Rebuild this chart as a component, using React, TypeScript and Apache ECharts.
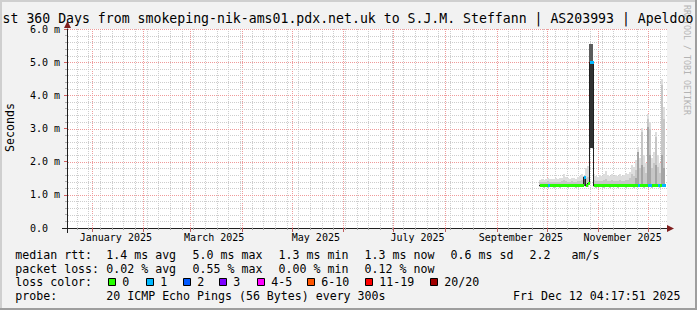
import React, { useEffect, useRef } from 'react';
import * as echarts from 'echarts';

const MONO = '"DejaVu Sans Mono", monospace';
const DAY = 86400000;
const END_TIME = Date.UTC(2025, 11, 12, 4, 17, 51);
const START_TIME = END_TIME - 360 * DAY;

// the title is wider than the image; only this part of it is visible
const titleText = 'st 360 Days from smokeping-nik-ams01.pdx.net.uk to S.J.M. Steffann | AS203993 | Apeldoo';
const yAxisTitle = 'Seconds';
const watermark = 'RRDTOOL / TOBI OETIKER';

// x axis labels (centred mid-month) and month grid lines
const xLabelTimes = [
  Date.UTC(2025, 0, 15, 12), Date.UTC(2025, 2, 15, 12), Date.UTC(2025, 4, 15, 12),
  Date.UTC(2025, 6, 15, 12), Date.UTC(2025, 8, 15, 12), Date.UTC(2025, 10, 15, 12),
];
const xLabelTexts = ['January 2025', 'March 2025', 'May 2025', 'July 2025', 'September 2025', 'November 2025'];
const monthStarts = [
  Date.UTC(2025, 0, 1), Date.UTC(2025, 1, 1), Date.UTC(2025, 2, 1), Date.UTC(2025, 3, 1),
  Date.UTC(2025, 4, 1), Date.UTC(2025, 5, 1), Date.UTC(2025, 6, 1), Date.UTC(2025, 7, 1),
  Date.UTC(2025, 8, 1), Date.UTC(2025, 9, 1), Date.UTC(2025, 10, 1), Date.UTC(2025, 11, 1),
];
const firstMonday = Date.UTC(2024, 11, 23);
const yMajorValues = [1, 2, 3, 4, 5, 6];
const yMinorPerMajor = 5;

// consolidated RRD rows (1.2 days each), values in ms
const binStart = Date.UTC(2025, 8, 26, 9, 0, 0);
const binDays = 1.2;

const medianRtt = [
  1.30, 1.30, 1.31, 1.30, 1.29, 1.30, 1.30, 1.31, 1.30, 1.30,
  1.30, 1.31, 1.30, 1.30, 1.30, 1.29, 1.30, 1.30, 1.31, 1.30,
  1.30, 1.30, 1.55, 1.31, 1.36, 5.00, 5.00, 1.30, 1.29, 1.30,
  1.30, 1.30, 1.31, 1.30, 1.30, 1.29, 1.30, 1.30, 1.30, 1.31,
  1.30, 1.30, 1.30, 1.29, 1.30, 1.30, 1.31, 1.30, 1.30, 1.31,
  1.30, 1.31, 1.30, 1.30, 1.31, 1.30, 1.30, 1.30, 1.31, 1.30,
  1.30, 1.31, 1.30,
];
const lossCount = [
  0, 0, 0, 0, 1, 0, 0, 0, 0, 0,
  0, 0, 0, 0, 0, 0, 0, 0, 0, 0,
  0, 0, 1, 0, 0, 1, 1, 0, 0, 0,
  0, 0, 0, 0, 0, 0, 0, 0, 0, 0,
  0, 0, 0, 0, 0, 0, 0, 0, 0, 1,
  0, 0, 0, 0, 1, 1, 0, 0, 0, 1,
  0, 1, 1,
];
const smokeMin = [
  1.23, 1.23, 1.22, 1.23, 1.22, 1.23, 1.23, 1.22, 1.23, 1.23,
  1.22, 1.23, 1.23, 1.23, 1.22, 1.23, 1.23, 1.23, 1.22, 1.23,
  1.23, 1.23, 1.27, 1.23, 1.24, 2.40, 2.40, 1.23, 1.22, 1.23,
  1.23, 1.23, 1.22, 1.23, 1.23, 1.22, 1.23, 1.23, 1.23, 1.22,
  1.23, 1.23, 1.23, 1.22, 1.23, 1.23, 1.23, 1.22, 1.23, 1.23,
  1.23, 1.23, 1.22, 1.23, 1.23, 1.23, 1.22, 1.23, 1.23, 1.23,
  1.22, 1.23, 1.23,
];
const smokeMax = [
  1.45, 1.47, 1.46, 1.48, 1.50, 1.47, 1.49, 1.48, 1.50, 1.49,
  1.51, 1.52, 1.64, 1.55, 1.50, 1.49, 1.52, 1.50, 1.49, 1.55,
  1.56, 1.62, 1.58, 1.80, 1.86, 5.54, 5.54, 1.62, 1.58, 1.55,
  1.60, 1.57, 1.62, 1.72, 1.60, 1.58, 1.64, 1.56, 1.60, 1.58,
  1.62, 1.57, 1.60, 1.66, 1.62, 1.70, 1.90, 1.85, 2.05, 2.45,
  2.10, 3.02, 2.20, 1.95, 3.44, 3.20, 2.10, 2.30, 2.90, 2.20,
  1.95, 4.49, 3.66,
];
const smokeUpper = [
  1.38, 1.39, 1.38, 1.40, 1.41, 1.38, 1.39, 1.39, 1.40, 1.39,
  1.40, 1.41, 1.45, 1.42, 1.40, 1.39, 1.41, 1.40, 1.39, 1.42,
  1.43, 1.45, 1.56, 1.50, 1.55, 5.54, 5.54, 1.44, 1.42, 1.41,
  1.43, 1.41, 1.44, 1.48, 1.43, 1.42, 1.45, 1.41, 1.43, 1.42,
  1.44, 1.41, 1.43, 1.46, 1.45, 1.50, 1.62, 1.58, 1.75, 2.30,
  1.80, 2.90, 1.85, 1.65, 3.30, 3.00, 1.80, 1.95, 2.75, 1.85,
  1.65, 4.30, 3.30,
];
const smokeInner = [
  null, null, null, null, null, null, null, null, null, null,
  null, null, null, null, null, null, null, null, null, null,
  null, null, 1.55, null, null, 5.54, 5.54, null, null, null,
  null, null, null, null, null, null, null, null, null, null,
  null, null, null, null, null, null, null, null, 1.50, 2.30,
  null, 1.90, null, null, 3.05, 2.20, null, null, 1.90, null,
  null, 2.20, 1.80,
];
const smokeDark = [
  null, null, null, null, null, null, null, null, null, null,
  null, null, null, null, null, null, null, null, null, null,
  null, null, 1.55, null, null, 5.54, 5.54, null, null, null,
  null, null, null, null, null, null, null, null, null, null,
  null, null, null, null, null, null, null, null, null, null,
  null, null, null, null, null, null, null, null, null, null,
  null, null, null,
];
const smokeCore = [
  null, null, null, null, null, null, null, null, null, null,
  null, null, null, null, null, null, null, null, null, null,
  null, null, null, null, null, 5.00, 5.00, null, null, null,
  null, null, null, null, null, null, null, null, null, null,
  null, null, null, null, null, null, null, null, null, null,
  null, null, null, null, null, null, null, null, null, null,
  null, null, null,
];

const lossLabels = ['0', '1', '2', '3', '4-5', '6-10', '11-19', '20/20'];
const lossUpper = [0, 1, 2, 3, 5, 10, 19, 20];
const lossColors = ['#26ff00', '#00b8ff', '#0059ff', '#7e00ff', '#ff00ff', '#ff5500', '#ff0000', '#a10000'];

const rttLine = ['median rtt:', '1.4 ms avg', '5.0 ms max', '1.3 ms min', '1.3 ms now', '0.6 ms sd', '2.2', 'am/s'];
const lossLine = ['packet loss:', '0.02 % avg', '0.55 % max', '0.00 % min', '0.12 % now'];
const probeLine = ['probe:', '20 ICMP Echo Pings (56 Bytes) every 300s', 'Fri Dec 12 04:17:51 2025'];
const lossColorTitle = 'loss color:';

// layout constants
const colX = [15.3, 106.3, 192.6, 278.6, 364.6, 450.6, 529.6, 571.6];
const probeX = [15.3, 106.3, 513];
const swatchX = [108, 146, 183, 219, 257, 307, 365, 430];
const lineY = [255, 268.7, 282.4, 296];

const GRID_MINOR = '#cdcdcd';
const GRID_MAJOR = '#ef9a9a';

function lossColorOf(n: number) {
  const k = lossUpper.findIndex((u) => n <= u);
  return lossColors[k < 0 ? lossColors.length - 1 : k];
}

const binMs = binDays * DAY;
const binT0 = (i: number) => binStart + i * binMs;

function bandData(tops: (number | null)[]) {
  const out: number[][] = [];
  tops.forEach((top, i) => {
    if (top == null) return;
    out.push([binT0(i), binT0(i + 1), smokeMin[i], top]);
  });
  return out;
}

function bandSeries(name: string, tops: (number | null)[], color: string) {
  return {
    type: 'custom',
    name,
    z: 3,
    silent: true,
    data: bandData(tops),
    encode: { x: [0, 1], y: [2, 3] },
    renderItem: (_p: any, api: any) => {
      const a = api.coord([api.value(0), api.value(3)]);
      const b = api.coord([api.value(1), api.value(2)]);
      const x0 = Math.round(a[0]);
      const x1 = Math.round(b[0]);
      const y0 = Math.round(a[1]);
      const y1 = Math.round(b[1]);
      return {
        type: 'rect',
        shape: { x: x0, y: y0, width: Math.max(1, x1 - x0), height: Math.max(1, y1 - y0) },
        style: { fill: color },
      };
    },
  };
}

export default function App() {
  const ref = useRef<HTMLDivElement>(null);

  useEffect(() => {
    if (!ref.current) return;
    const chart = echarts.init(ref.current, undefined, { renderer: 'svg' });

    // grid line positions
    const vLines: number[][] = monthStarts.map((t) => [t, 0, 1]);
    for (let t = firstMonday; t < END_TIME; t += 7 * DAY) {
      if (!monthStarts.includes(t)) vLines.push([t, 0, 0]);
    }
    const hLines: number[][] = yMajorValues.map((v) => [START_TIME, v, 1]);
    for (let m = 0; m < yMajorValues.length; m++) {
      for (let k = 1; k < yMinorPerMajor; k++) {
        hLines.push([START_TIME, m + k / yMinorPerMajor, 0]);
      }
    }

    const medianData = medianRtt.map((m, i) => [binT0(i), binT0(i + 1), m, i > 0 ? medianRtt[i - 1] : m]);
    const lossData = medianRtt.map((m, i) => [binT0(i), binT0(i + 1), m, lossCount[i]]);

    const textStyle = (size: number, extra: any = {}) => ({
      fontFamily: MONO,
      fontSize: size,
      fill: '#000',
      ...extra,
    });

    const legendTexts: any[] = [];
    const addRow = (tokens: string[], xs: number[], y: number) => {
      tokens.forEach((t, k) => {
        legendTexts.push({
          type: 'text',
          x: xs[k],
          y,
          style: { ...textStyle(11.6), text: t, textAlign: 'left', textVerticalAlign: 'middle' },
        });
      });
    };
    addRow(rttLine, colX, lineY[0]);
    addRow(lossLine, colX, lineY[1]);
    addRow([lossColorTitle], colX, lineY[2]);
    addRow(probeLine, probeX, lineY[3]);
    lossLabels.forEach((lab, k) => {
      legendTexts.push({
        type: 'rect',
        shape: { x: swatchX[k] + 0.5, y: 278.5, width: 7, height: 7 },
        style: { fill: lossColors[k], stroke: '#000', lineWidth: 1 },
      });
      legendTexts.push({
        type: 'text',
        x: swatchX[k] + 14.3,
        y: lineY[2],
        style: { ...textStyle(11.6), text: lab, textAlign: 'left', textVerticalAlign: 'middle' },
      });
    });

    const option: any = {
      animation: false,
      backgroundColor: '#f2f2f2',
      grid: { left: 67, right: 30, top: 29, bottom: 82, show: true, backgroundColor: '#ffffff', borderWidth: 0 },
      xAxis: {
        type: 'value',
        min: START_TIME,
        max: END_TIME,
        scale: true,
        axisLine: { show: true, onZero: false, lineStyle: { color: '#1f1f1f', width: 1 } },
        axisTick: { show: false },
        splitLine: { show: false },
        axisLabel: {
          customValues: xLabelTimes,
          formatter: (v: number) => {
            const k = xLabelTimes.findIndex((t) => Math.abs(t - v) < 60000);
            return k >= 0 ? xLabelTexts[k] : '';
          },
          fontFamily: MONO,
          fontSize: 10,
          color: '#000',
          margin: 4.5,
          hideOverlap: false,
        },
      },
      yAxis: {
        type: 'value',
        min: 0,
        max: 6,
        interval: 1,
        axisLine: { show: true, lineStyle: { color: '#1f1f1f', width: 1 } },
        axisTick: { show: true, length: 3, lineStyle: { color: '#d06060' } },
        minorTick: { show: true, splitNumber: 5, length: 2, lineStyle: { color: '#b0b0b0' } },
        splitLine: { show: false },
        axisLabel: {
          fontFamily: MONO,
          fontSize: 10,
          color: '#000',
          margin: 7,
          formatter: (v: number) => (v === 0 ? '{z|0.0}' : `${v.toFixed(1)} m`),
          rich: { z: { fontFamily: MONO, fontSize: 10, color: '#000', padding: [0, 12, 0, 0] } },
        },
      },
      series: [
        {
          type: 'custom',
          name: 'vgrid',
          z: 2,
          silent: true,
          data: vLines,
          encode: { x: 0, y: 1 },
          renderItem: (_p: any, api: any) => {
            const major = api.value(2) === 1;
            const top = api.coord([api.value(0), 6]);
            const bot = api.coord([api.value(0), 0]);
            const x = Math.round(top[0]) + 0.5;
            return {
              type: 'group',
              children: [
                {
                  type: 'line',
                  shape: { x1: x, y1: top[1], x2: x, y2: bot[1] },
                  style: { stroke: major ? GRID_MAJOR : GRID_MINOR, lineWidth: 1, lineDash: [1, 1] },
                },
                {
                  type: 'line',
                  shape: { x1: x, y1: bot[1], x2: x, y2: bot[1] + (major ? 4 : 2) },
                  style: { stroke: major ? '#c06060' : '#a0a0a0', lineWidth: 1 },
                },
              ],
            };
          },
        },
        {
          type: 'custom',
          name: 'hgrid',
          z: 2,
          silent: true,
          data: hLines,
          encode: { x: 0, y: 1 },
          renderItem: (_p: any, api: any) => {
            const major = api.value(2) === 1;
            const l = api.coord([START_TIME, api.value(1)]);
            const r = api.coord([END_TIME, api.value(1)]);
            const y = Math.round(l[1]) + 0.5;
            return {
              type: 'line',
              shape: { x1: l[0] + 1, y1: y, x2: r[0], y2: y },
              style: { stroke: major ? GRID_MAJOR : GRID_MINOR, lineWidth: 1, lineDash: [1, 1] },
            };
          },
        },
        bandSeries('smoke 1', smokeMax, '#dddddd'),
        bandSeries('smoke 2', smokeUpper, '#c6c6c6'),
        bandSeries('smoke 3', smokeInner, '#a4a4a4'),
        bandSeries('smoke 4', smokeDark, '#5c5c5c'),
        bandSeries('smoke 5', smokeCore, '#323232'),
        {
          type: 'custom',
          name: 'median',
          z: 4,
          silent: true,
          data: medianData,
          encode: { x: [0, 1], y: 2 },
          renderItem: (_p: any, api: any) => {
            const a = api.coord([api.value(0), api.value(2)]);
            const b = api.coord([api.value(1), api.value(2)]);
            const p = api.coord([api.value(0), api.value(3)]);
            const x0 = Math.round(a[0]);
            const x1 = Math.round(b[0]);
            const y = Math.round(a[1]) + 0.5;
            const yp = Math.round(p[1]) + 0.5;
            const children: any[] = [
              { type: 'line', shape: { x1: x0, y1: y, x2: x1, y2: y }, style: { stroke: '#202020', lineWidth: 1 } },
            ];
            if (yp !== y) {
              children.push({
                type: 'line',
                shape: { x1: x0 + 0.5, y1: yp, x2: x0 + 0.5, y2: y },
                style: { stroke: '#202020', lineWidth: 1 },
              });
            }
            return { type: 'group', children };
          },
        },
        {
          type: 'custom',
          name: 'loss',
          z: 5,
          silent: true,
          data: lossData,
          encode: { x: [0, 1], y: 2 },
          renderItem: (_p: any, api: any) => {
            const a = api.coord([api.value(0), api.value(2)]);
            const b = api.coord([api.value(1), api.value(2)]);
            const x0 = Math.round(a[0]) + 1;
            const x1 = Math.round(b[0]) + 1;
            const y = Math.round(a[1]);
            return {
              type: 'rect',
              shape: { x: x0, y: y - 1, width: x1 - x0, height: 3 },
              style: { fill: lossColorOf(api.value(3)) },
            };
          },
        },
      ],
      graphic: [
        { type: 'rect', z: 100, shape: { x: 0, y: 0, width: 697, height: 2 }, style: { fill: '#cfcfcf' } },
        { type: 'rect', z: 100, shape: { x: 0, y: 0, width: 2, height: 310 }, style: { fill: '#cfcfcf' } },
        { type: 'rect', z: 100, shape: { x: 0, y: 308, width: 697, height: 2 }, style: { fill: '#9e9e9e' } },
        { type: 'rect', z: 100, shape: { x: 695, y: 0, width: 2, height: 310 }, style: { fill: '#9e9e9e' } },
        {
          type: 'text', z: 10, x: 687, y: 60, rotation: -Math.PI / 2,
          style: { ...textStyle(8.3, { fill: '#b4b4b4' }), text: watermark, textAlign: 'center', textVerticalAlign: 'middle' },
        },
        {
          type: 'text', z: 11, x: 2.6, y: 18.6,
          style: { ...textStyle(13.2), lineHeight: 11, text: titleText, textAlign: 'left', textVerticalAlign: 'middle' },
        },
        {
          type: 'text', z: 10, x: 10.3, y: 127.5, rotation: Math.PI / 2,
          style: { ...textStyle(11.6), text: yAxisTitle, textAlign: 'center', textVerticalAlign: 'middle' },
        },
        { type: 'line', z: 10, shape: { x1: 62, y1: 228.5, x2: 67, y2: 228.5 }, style: { stroke: '#1f1f1f', lineWidth: 1 } },
        { type: 'line', z: 10, shape: { x1: 67.5, y1: 228, x2: 67.5, y2: 233 }, style: { stroke: '#1f1f1f', lineWidth: 1 } },
        { type: 'polygon', z: 10, shape: { points: [[667, 225], [674, 228.5], [667, 232]] }, style: { fill: '#801f1f' } },
        { type: 'polygon', z: 10, shape: { points: [[64, 28], [67.5, 21], [71, 28]] }, style: { fill: '#801f1f' } },
        ...legendTexts.map((e) => ({ z: 10, ...e })),
      ],
    };

    chart.setOption(option);
    return () => chart.dispose();
  }, []);

  return (
    <div
      ref={ref}
      style={{ position: 'absolute', left: 0, top: 0, width: 697, height: 310 }}
    />
  );
}
